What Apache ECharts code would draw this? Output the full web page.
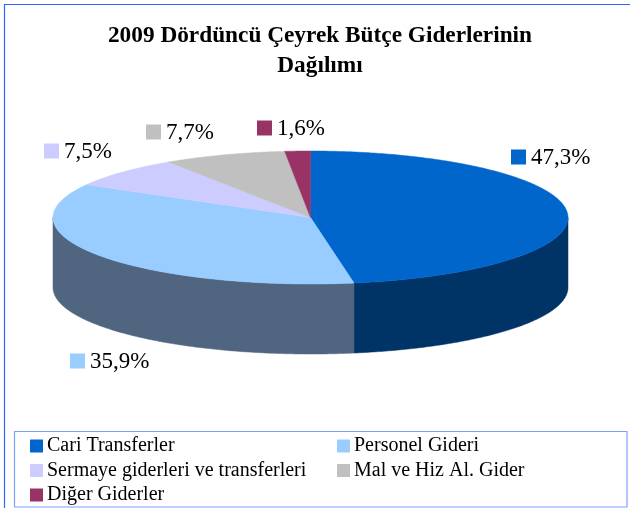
<!DOCTYPE html>
<html><head><meta charset="utf-8">
<style>html,body{margin:0;padding:0;background:#fff}#c{width:630px;height:508px}</style>
<script src="https://cdn.jsdelivr.net/npm/echarts@6/dist/echarts.min.js"></script>
</head><body><div id="c"></div>
<script>
const titleText = '2009 Dördüncü Çeyrek Bütçe Giderlerinin\nDağılımı';
const categories = ['Cari Transferler','Personel Gideri','Sermaye giderleri ve transferleri','Mal ve Hiz Al. Gider','Diğer Giderler'];
const shares = [47.3,35.9,7.5,7.7,1.6];
const shareLabels = ['47,3%','35,9%','7,5%','7,7%','1,6%'];
const topColors = ['#0066CC','#99CCFF','#CCCCFF','#C0C0C0','#993366'];
const sideColors = ['#003366','#4F6580','#66667F','#606060','#4C1933'];
const labelAnchors = [[511,157],[70,361],[44,151],[146,132],[257,128]];

const FONT = '"Liberation Serif","Times New Roman",serif';
const CX = 310.5, CY = 217.5, RX = 257.5, RY = 66.5, DEPTH = 70;
const total = shares.reduce((a,b)=>a+b,0);

function pt(t, dy){ return [CX + RX*Math.sin(t), CY - RY*Math.cos(t) + (dy||0)]; }
function arc(t0, t1, dy){
  const n = Math.max(2, Math.ceil((t1-t0)/0.01)), out = [];
  for (let i=0;i<=n;i++) out.push(pt(t0+(t1-t0)*i/n, dy));
  return out;
}
function makeSeries(idx){
  const before = shares.slice(0,idx).reduce((a,b)=>a+b,0);
  return {
    type:'custom', name:categories[idx], coordinateSystem:'none',
    itemStyle:{color:topColors[idx]},
    data:[[shares[idx]]],
    renderItem:function(params, api){
      const v = api.value(0);
      const t0 = before/total*2*Math.PI, t1 = (before+v)/total*2*Math.PI;
      const children = [];
      // visible front wall: the part of the rim on the near half of the ellipse
      const a = Math.max(t0,Math.PI/2), b = Math.min(t1,Math.PI*1.5);
      if (b > a){
        const front = arc(a,b,0).concat(arc(a,b,DEPTH).reverse());
        children.push({type:'polygon',shape:{points:front},
          style:{fill:sideColors[idx],stroke:sideColors[idx],lineWidth:0.5}});
      }
      const top = [[CX,CY]].concat(arc(t0,t1,0));
      children.push({type:'polygon',shape:{points:top},
        style:{fill:topColors[idx],stroke:topColors[idx],lineWidth:0.5}});
      const p = labelAnchors[idx];
      children.push({type:'rect',shape:{x:p[0],y:p[1]-7.5,width:15,height:15},style:{fill:topColors[idx]},z2:10});
      children.push({type:'text',x:p[0]+20,y:p[1]+1,z2:10,style:{text:shareLabels[idx],font:'23px '+FONT,fill:'#000',textVerticalAlign:'middle',textAlign:'left'}});
      return {type:'group',children:children};
    }
  };
}
const legendBase = {orient:'vertical',icon:'rect',itemWidth:13,itemHeight:13,itemGap:4.5,selectedMode:false,padding:0,height:120,
  textStyle:{fontFamily:FONT,fontSize:20,lineHeight:13,color:'#000',padding:[0,0,0,-1]}};
const chart = echarts.init(document.getElementById('c'),null,{renderer:'canvas'});
chart.setOption({
  animation:false,
  backgroundColor:'#fff',
  title:{text:titleText,left:315,top:16,textAlign:'center',
    textStyle:{fontFamily:FONT,fontSize:23.3,fontWeight:'bold',color:'#000',lineHeight:30}},
  legend:[
    Object.assign({},legendBase,{left:30,top:436,data:[categories[0],categories[2],categories[4]]}),
    Object.assign({},legendBase,{left:337,top:436,data:[categories[1],categories[3]]})
  ],
  graphic:[
    {type:'rect',silent:true,z:-1,shape:{x:4.5,y:4.5,width:640,height:520},style:{fill:'none',stroke:'#3366FF',lineWidth:1.2}},
    {type:'rect',silent:true,z:-1,shape:{x:14.5,y:431.5,width:612.5,height:75.5},style:{fill:'#fff',stroke:'#7F9FFF',lineWidth:1.2}}
  ],
  series:shares.map((_,i)=>makeSeries(i))
});
</script></body></html>
